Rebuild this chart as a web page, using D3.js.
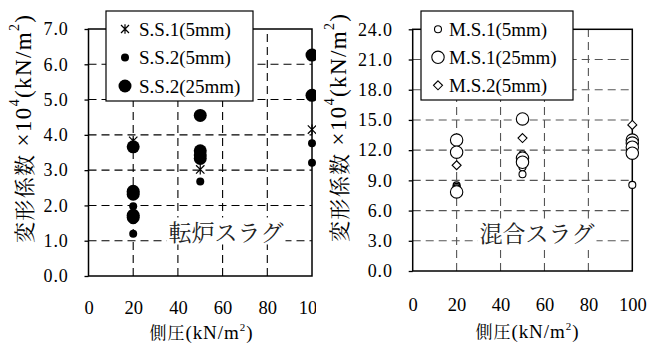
<!DOCTYPE html>
<html>
<head>
<meta charset="utf-8">
<script src="https://cdn.jsdelivr.net/npm/d3@7"></script>
<style>
  html, body { margin: 0; padding: 0; background: #fff; }
  svg { display: block; }
</style>
</head>
<body>
<svg id="chart" width="659" height="347"></svg>
<script>
// ---- data: [side pressure (kN/m2), deformation modulus (x10^4 kN/m2)] ----
const xTicks = [0, 20, 40, 60, 80, 100];

// converter slag
const leftYTicks = [0, 1, 2, 3, 4, 5, 6, 7];
const ss1_5mm = [[20, 3.83], [50, 3.02], [100, 4.15]];
const ss2_5mm = [[20, 1.98], [20, 1.58], [20, 1.2], [50, 2.68], [100, 3.76], [100, 3.21]];
const ss2_25mm = [[20, 3.66], [20, 2.4], [20, 2.32], [20, 1.72], [20, 1.66],
                  [50, 4.55], [50, 3.55], [50, 3.43], [50, 3.33], [100, 6.26], [100, 5.12]];

// mixed slag
const rightYTicks = [0, 3, 6, 9, 12, 15, 18, 21, 24];
const ms1_5mm = [[20, 8.5], [20, 8.35], [20, 8.2], [20, 7.95], [50, 11.6], [50, 10.3], [50, 9.6],
                 [100, 12.9], [100, 8.55]];
const ms1_25mm = [[20, 13.0], [20, 11.8], [20, 7.85], [50, 15.1], [50, 11.2], [50, 10.8],
                  [100, 13.0], [100, 12.7], [100, 12.3], [100, 11.7]];
const ms2_5mm = [[20, 10.5], [50, 13.2], [100, 14.5]];

const SERIF = "Liberation Serif";
const JP = "Noto Serif CJK JP";

const svg = d3.select("#chart");

// marker painters
const markers = {
  star: (g, r) => {
    g.append("path")
      .attr("d", `M${-r},${-r}L${r},${r}M${-r},${r}L${r},${-r}M0,${-r * 1.2}L0,${r * 1.2}`)
      .attr("stroke", "#000").attr("stroke-width", 1.2).attr("fill", "none");
  },
  dotSmall: (g) => g.append("circle").attr("r", 4).attr("fill", "#000"),
  dotLarge: (g) => g.append("circle").attr("r", 6.5).attr("fill", "#000"),
  ringSmall: (g) => g.append("circle").attr("r", 3.5).attr("fill", "#fff").attr("stroke", "#000").attr("stroke-width", 1.1),
  ringLarge: (g) => g.append("circle").attr("r", 6.2).attr("fill", "#fff").attr("stroke", "#000").attr("stroke-width", 1.1),
  diamond: (g) => g.append("path").attr("d", "M0,-4.5L4.5,0L0,4.5L-4.5,0Z")
      .attr("fill", "#fff").attr("stroke", "#000").attr("stroke-width", 1.1)
};

function yTitle(g, cx, cy, len) {
  const t = g.append("text")
    .attr("transform", `translate(${cx},${cy}) rotate(-90)`)
    .attr("text-anchor", "middle")
    .attr("dominant-baseline", "central")
    .attr("font-family", SERIF)
    .attr("font-size", 23)
    .attr("textLength", len).attr("lengthAdjust", "spacing");
  t.append("tspan").attr("font-family", JP).attr("font-size", 21).text("変形係数");
  t.append("tspan").text(" ×10");
  t.append("tspan").attr("font-size", 14).attr("dy", -9).text("4");
  t.append("tspan").attr("dy", 9).text("(kN/m");
  t.append("tspan").attr("font-size", 14).attr("dy", -9).text("2");
  t.append("tspan").attr("dy", 9).text(")");
}

function xTitle(g, cx, cy) {
  const t = g.append("text")
    .attr("x", cx).attr("y", cy)
    .attr("text-anchor", "middle")
    .attr("font-family", SERIF)
    .attr("font-size", 19)
    .attr("textLength", 103).attr("lengthAdjust", "spacing");
  t.append("tspan").attr("font-family", JP).attr("font-size", 17).text("側圧");
  t.append("tspan").text("(kN/m");
  t.append("tspan").attr("font-size", 11).attr("dy", -8).text("2");
  t.append("tspan").attr("dy", 8).text(")");
}

function panel(cfg) {
  svg.append("clipPath").attr("id", `${cfg.id}-clip`)
    .append("rect").attr("x", cfg.clip[0]).attr("y", 0).attr("width", cfg.clip[1] - cfg.clip[0]).attr("height", 347);
  const g = svg.append("g").attr("clip-path", `url(#${cfg.id}-clip)`);

  const x = d3.scaleLinear().domain([0, 100]).range([cfg.left, cfg.right]);
  const y = d3.scaleLinear().domain([0, cfg.yMax]).range([cfg.bottom, cfg.top]);

  // dashed grid
  const grid = g.append("g").attr("stroke", cfg.gridColor).attr("stroke-width", 1.1)
    .attr("stroke-dasharray", "8,5");
  grid.selectAll("line.h").data(cfg.yTicks.filter(v => v > 0 && v < cfg.yMax)).join("line")
    .attr("class", "h")
    .attr("x1", cfg.left).attr("x2", cfg.right).attr("y1", d => y(d)).attr("y2", d => y(d));
  grid.selectAll("line.v").data(xTicks.filter(v => v > 0 && v < 100)).join("line")
    .attr("class", "v")
    .attr("y1", cfg.bottom).attr("y2", cfg.top).attr("x1", d => x(d)).attr("x2", d => x(d));

  // frame
  g.append("rect").attr("x", cfg.left).attr("y", cfg.top)
    .attr("width", cfg.right - cfg.left).attr("height", cfg.bottom - cfg.top)
    .attr("fill", "none").attr("stroke", "#000").attr("stroke-width", 1.5);

  // axes
  const ya = g.append("g").attr("transform", `translate(${cfg.left},0)`)
    .call(d3.axisLeft(y).tickValues(cfg.yTicks).tickSize(4).tickPadding(16).tickFormat(d3.format(".1f")));
  ya.attr("font-family", SERIF).attr("font-size", 18);
  ya.select(".domain").remove();
  ya.selectAll("line").attr("stroke-width", 1.3);
  ya.selectAll("text").attr("letter-spacing", 0.8);

  const xa = g.append("g").attr("transform", `translate(0,${cfg.bottom})`)
    .call(d3.axisBottom(x).tickValues(xTicks).tickSize(0).tickPadding(cfg.xPad).tickFormat(d3.format("d")));
  xa.attr("font-family", SERIF).attr("font-size", 18.5);
  xa.select(".domain").remove();

  // in-plot label with white backing
  const lbl = g.append("g");
  const lt = lbl.append("text")
    .attr("x", cfg.label.x).attr("y", cfg.label.y)
    .attr("text-anchor", "middle").attr("dominant-baseline", "central")
    .attr("font-family", JP)
    .attr("font-size", 23).attr("fill", "#222")
    .text(cfg.label.text);
  const bb = lt.node().getBBox();
  lbl.insert("rect", "text").attr("x", bb.x - 2).attr("y", bb.y + 3)
    .attr("width", bb.width + 4).attr("height", bb.height - 6).attr("fill", "#fff");

  // points
  cfg.series.forEach(s => {
    s.data.forEach(d => {
      const m = g.append("g").attr("transform", `translate(${x(d[0])},${y(d[1])})`);
      markers[s.marker](m, 4.2);
    });
  });

  // legend
  const L = cfg.legend;
  const lg = g.append("g");
  lg.append("rect").attr("x", L.x).attr("y", L.y).attr("width", L.w).attr("height", L.h)
    .attr("fill", "#fff").attr("stroke", "#000").attr("stroke-width", 1.2);
  cfg.series.forEach((s, i) => {
    const cy = L.row0 + i * L.step;
    const m = lg.append("g").attr("transform", `translate(${L.mx},${cy})`);
    markers[s.marker](m, 4);
    lg.append("text").attr("x", L.tx).attr("y", cy).attr("dominant-baseline", "central")
      .attr("font-family", SERIF).attr("font-size", 19).text(s.name);
  });

  yTitle(g, cfg.yTitle[0], cfg.yTitle[1], 228);
  xTitle(g, cfg.xTitle[0], cfg.xTitle[1]);
}

panel({
  id: "ss", clip: [0, 316],
  left: 88.5, right: 312, top: 29, bottom: 276, yMax: 7, yTicks: leftYTicks,
  gridColor: "#000", xPad: 25,
  label: { text: "転炉スラグ", x: 226, y: 231 },
  series: [
    { name: "S.S.1(5mm)", marker: "star", data: ss1_5mm },
    { name: "S.S.2(5mm)", marker: "dotSmall", data: ss2_5mm },
    { name: "S.S.2(25mm)", marker: "dotLarge", data: ss2_25mm }
  ],
  legend: { x: 106, y: 11, w: 147, h: 90, row0: 29, step: 28.5, mx: 125, tx: 139 },
  yTitle: [23, 129], xTitle: [201, 339]
});

panel({
  id: "ms", clip: [316, 659],
  left: 412.7, right: 632.3, top: 29.3, bottom: 271, yMax: 24, yTicks: rightYTicks,
  gridColor: "#555", xPad: 27,
  label: { text: "混合スラグ", x: 537, y: 232 },
  series: [
    { name: "M.S.1(5mm)", marker: "ringSmall", data: ms1_5mm },
    { name: "M.S.1(25mm)", marker: "ringLarge", data: ms1_25mm },
    { name: "M.S.2(5mm)", marker: "diamond", data: ms2_5mm }
  ],
  legend: { x: 421, y: 11, w: 152, h: 89, row0: 29.3, step: 28, mx: 438, tx: 449 },
  yTitle: [338, 128], xTitle: [527, 338]
});
</script>
</body>
</html>
